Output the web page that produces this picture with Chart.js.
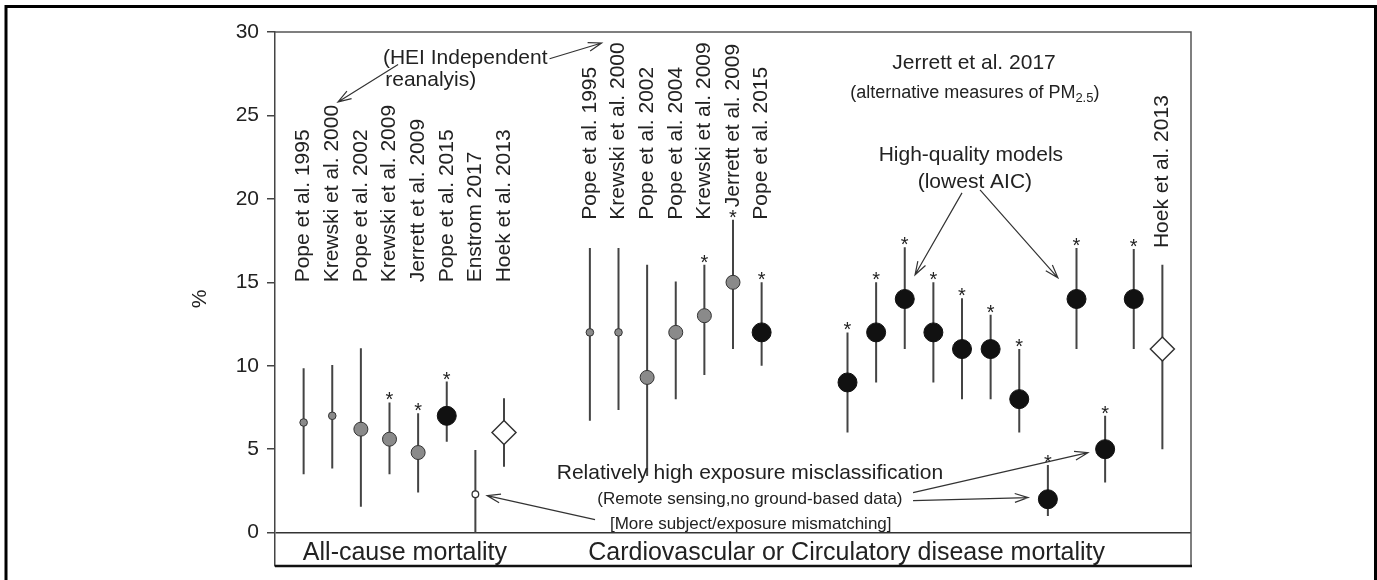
<!DOCTYPE html>
<html>
<head>
<meta charset="utf-8">
<script src="https://cdn.jsdelivr.net/npm/chart.js@4.4.1/dist/chart.umd.min.js"></script>
<style>
  html, body { margin: 0; padding: 0; background: #fff; }
  #wrap { position: relative; width: 1377px; height: 580px; }
</style>
</head>
<body>
<div id="wrap"><canvas id="chart" width="1377" height="580"></canvas></div>
<script>
/* ================= DATA ================= */
const xPos  = [1, 2, 3, 4, 5, 6, 7, 8,  11, 12, 13, 14, 15, 16, 17,  20, 21, 22, 23, 24, 25, 26, 27, 28, 29, 30, 31];
const est   = [6.6, 7.0, 6.2, 5.6, 4.8, 7.0, 2.3, 6.0,  12, 12, 9.3, 12, 13, 15, 12,  9, 12, 14, 12, 11, 11, 8, 2, 14, 5, 14, 11];
const lower = [3.5, 3.85, 1.55, 3.5, 2.4, 5.45, 0, 3.95,  6.7, 7.35, 3.4, 8, 9.45, 11, 10,  6, 9, 11, 9, 8, 8, 6, 1, 11, 3, 11, 5];
const upper = [9.85, 10.05, 11.05, 7.8, 7.15, 9.05, 4.95, 8.05,  17.05, 17.05, 16.05, 15.05, 16.05, 18.75, 15,  12, 15, 17.1, 15, 14.05, 13.05, 11, 4.05, 17.05, 7, 17, 16.05];
// sg = small grey, lg = large grey, bk = black, sw = small white, dm = diamond
const marker = ["sg", "sg", "lg", "lg", "lg", "bk", "sw", "dm",
                "sg", "sg", "lg", "lg", "lg", "lg", "bk",
                "bk", "bk", "bk", "bk", "bk", "bk", "bk", "bk", "bk", "bk", "bk", "dm"];
const starred = [0, 0, 0, 1, 1, 1, 0, 0,  0, 0, 0, 0, 1, 1, 1,  1, 1, 1, 1, 1, 1, 1, 1, 1, 1, 1, 0];

const studyLabels = [
    "Pope et al. 1995", "Krewski et al. 2000", "Pope et al. 2002", "Krewski et al. 2009",
    "Jerrett et al. 2009", "Pope et al. 2015", "Enstrom 2017", "Hoek et al. 2013",
    "Pope et al. 1995", "Krewski et al. 2000", "Pope et al. 2002", "Pope et al. 2004",
    "Krewski et al. 2009", "Jerrett et al. 2009", "Pope et al. 2015",
    "", "", "", "", "", "", "", "", "", "", "", "Hoek et al. 2013"
];
const labelGroup = [1, 1, 1, 1, 1, 1, 1, 1,  2, 2, 2, 2, 2, 4, 2,  0, 0, 0, 0, 0, 0, 0, 0, 0, 0, 0, 3];

const yTicks = [0, 5, 10, 15, 20, 25, 30];
const categoryNames = ["All-cause mortality", "Cardiovascular or Circulatory disease mortality"];

/* ================= STYLE ================= */
const FONT = "'Liberation Sans', Arial, Helvetica, sans-serif";
const INK = "#222";

const MARKERS = {
    sg: { r: 3.8, bg: "#8a8a8a", bd: "#333", bw: 1,   style: "circle" },
    lg: { r: 7,   bg: "#8a8a8a", bd: "#333", bw: 1,   style: "circle" },
    bk: { r: 9.5, bg: "#111",    bd: "#111", bw: 1,   style: "circle" },
    sw: { r: 3.3, bg: "#fff",    bd: "#333", bw: 1.3, style: "circle" },
    dm: { r: 12,  bg: "#fff",    bd: "#333", bw: 1.5, style: "rectRot" }
};

/* ================= DATASETS ================= */
const whiskerData = [];
xPos.forEach((x, i) => {
    whiskerData.push({ x: x, y: lower[i] }, { x: x, y: upper[i] }, { x: x, y: null });
});

const datasets = [{
    type: "line",
    data: whiskerData,
    borderColor: "#444",
    borderWidth: 2,
    pointRadius: 0,
    spanGaps: false,
    order: 10
}];

Object.keys(MARKERS).forEach(key => {
    const m = MARKERS[key];
    datasets.push({
        type: "scatter",
        data: xPos.map((x, i) => ({ x: x, y: est[i] })).filter((d, i) => marker[i] === key),
        pointStyle: m.style,
        pointRadius: m.r,
        pointBackgroundColor: m.bg,
        pointBorderColor: m.bd,
        pointBorderWidth: m.bw,
        order: 0
    });
});

/* ================= DECOR PLUGIN ================= */
function arrow(ctx, x1, y1, x2, y2) {
    const a = Math.atan2(y2 - y1, x2 - x1);
    const len = 14, spread = 0.32;
    ctx.beginPath();
    ctx.moveTo(x1, y1);
    ctx.lineTo(x2, y2);
    ctx.moveTo(x2 - len * Math.cos(a - spread), y2 - len * Math.sin(a - spread));
    ctx.lineTo(x2, y2);
    ctx.lineTo(x2 - len * Math.cos(a + spread), y2 - len * Math.sin(a + spread));
    ctx.stroke();
}

const decor = {
    id: "decor",
    afterDatasetsDraw(chart) {
        const ctx = chart.ctx;
        const xs = chart.scales.x, ys = chart.scales.y;
        const px = v => xs.getPixelForValue(v);
        const py = v => ys.getPixelForValue(v);

        ctx.save();
        ctx.fillStyle = INK;

        // significance stars
        ctx.font = "20px " + FONT;
        ctx.textAlign = "center";
        ctx.textBaseline = "alphabetic";
        xPos.forEach((x, i) => {
            if (starred[i]) ctx.fillText("*", px(x), py(upper[i]) + 4);
        });

        // rotated study names (start of text, in y units)
        const labelBase = { 1: 15.0, 2: 18.75, 3: 17.05, 4: 19.5 };
        ctx.font = "21px " + FONT;
        ctx.textAlign = "left";
        ctx.textBaseline = "middle";
        xPos.forEach((x, i) => {
            if (!studyLabels[i]) return;
            ctx.save();
            ctx.translate(px(x), py(labelBase[labelGroup[i]]));
            ctx.rotate(-Math.PI / 2);
            ctx.fillText(studyLabels[i], 0, 0);
            ctx.restore();
        });

        // annotations
        ctx.strokeStyle = "#333";
        ctx.lineWidth = 1.2;
        ctx.font = "21px " + FONT;
        ctx.textAlign = "left";
        ctx.fillText("(HEI Independent", px(3.77), py(28.44));
        ctx.fillText("reanalyis)", px(3.85), py(27.13));
        const heiEnd = px(3.77) + ctx.measureText("(HEI Independent").width;
        arrow(ctx, heiEnd + 2, py(28.4), px(11.41), py(29.34));
        arrow(ctx, px(4.3), py(28.05), px(2.2), py(25.81));

        ctx.textAlign = "center";
        ctx.fillText("Jerrett et al. 2017", px(24.42), py(28.14));

        // (alternative measures of PM2.5) with subscript
        const partA = "(alternative measures of PM", partB = "2.5", partC = ")";
        ctx.font = "18px " + FONT;
        const wA = ctx.measureText(partA).width, wC = ctx.measureText(partC).width;
        ctx.font = "13px " + FONT;
        const wB = ctx.measureText(partB).width;
        const sx = px(24.45) - (wA + wB + wC) / 2;
        const sy = py(26.35);
        ctx.textAlign = "left";
        ctx.font = "18px " + FONT;
        ctx.fillText(partA, sx, sy);
        ctx.font = "13px " + FONT;
        ctx.fillText(partB, sx + wA, sy + 6);
        ctx.font = "18px " + FONT;
        ctx.fillText(partC, sx + wA + wB, sy);

        ctx.textAlign = "center";
        ctx.font = "21px " + FONT;
        ctx.fillText("High-quality models", px(24.31), py(22.63));
        ctx.fillText("(lowest AIC)", px(24.45), py(21.02));
        arrow(ctx, px(24.0), py(20.36), px(22.36), py(15.45));
        arrow(ctx, px(24.63), py(20.54), px(27.35), py(15.27));

        ctx.fillText("Relatively high exposure misclassification", px(16.59), py(3.59));
        ctx.font = "17px " + FONT;
        ctx.fillText("(Remote sensing,no ground-based data)", px(16.59), py(1.98));
        ctx.fillText("[More subject/exposure mismatching]", px(16.62), py(0.48));
        arrow(ctx, px(11.18), py(0.78), px(7.41), py(2.22));
        arrow(ctx, px(22.29), py(2.40), px(28.40), py(4.79));
        arrow(ctx, px(22.29), py(1.92), px(26.31), py(2.10));

        // category names in the bottom strip
        ctx.font = "25px " + FONT;
        ctx.fillText(categoryNames[0], px(4.54), py(-1.2));
        ctx.fillText(categoryNames[1], px(19.97), py(-1.2));

        ctx.restore();
    },
    afterDraw(chart) {
        const ctx = chart.ctx;
        const a = chart.chartArea;
        ctx.save();
        ctx.strokeStyle = "#555";
        ctx.lineWidth = 1.5;
        ctx.beginPath();
        ctx.moveTo(a.left, a.top);
        ctx.lineTo(a.right, a.top);
        ctx.lineTo(a.right, a.bottom);
        ctx.stroke();
        ctx.strokeStyle = "#111";
        ctx.lineWidth = 2.5;
        ctx.beginPath();
        ctx.moveTo(a.left, a.bottom);
        ctx.lineTo(a.right + 1, a.bottom);
        ctx.stroke();
        // outer figure frame
        ctx.strokeStyle = "#000";
        ctx.lineWidth = 3;
        ctx.beginPath();
        ctx.moveTo(6, 580);
        ctx.lineTo(6, 6.5);
        ctx.lineTo(1375.5, 6.5);
        ctx.lineTo(1375.5, 580);
        ctx.stroke();
        ctx.restore();
    }
};

/* ================= CHART ================= */
new Chart(document.getElementById("chart"), {
    data: { datasets: datasets },
    options: {
        responsive: false,
        animation: false,
        layout: { padding: { left: 185, right: 186, top: 32, bottom: 14 } },
        plugins: { legend: { display: false }, tooltip: { enabled: false } },
        scales: {
            x: { type: "linear", min: 0, max: 32, display: false },
            y: {
                type: "linear",
                min: -2,
                max: 30,
                afterFit: s => { s.width = 90; s.paddingTop = 0; s.paddingBottom = 0; },
                afterBuildTicks: s => { s.ticks = yTicks.map(v => ({ value: v })); },
                grid: {
                    color: c => (c.tick && c.tick.value === 0) ? "#333" : "rgba(0,0,0,0)",
                    lineWidth: 1.5,
                    tickLength: 8,
                    tickColor: "#444",
                    tickWidth: 1.5
                },
                border: { display: true, color: "#444", width: 1.5 },
                ticks: { color: INK, font: { family: FONT, size: 21 }, padding: 8 },
                title: { display: true, text: "%", color: INK, font: { family: FONT, size: 21 }, padding: { top: 3, bottom: 0 } }
            }
        }
    },
    plugins: [decor]
});
</script>
</body>
</html>
